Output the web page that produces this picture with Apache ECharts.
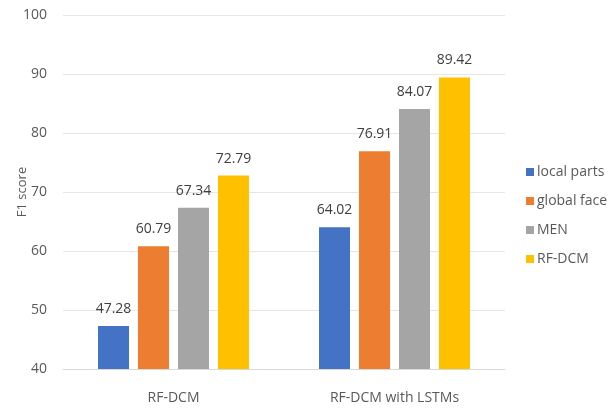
<!DOCTYPE html>
<html>
<head>
<meta charset="utf-8">
<script src="https://cdn.jsdelivr.net/npm/echarts@6/dist/echarts.min.js"></script>
<style>
  html, body { margin: 0; padding: 0; background: #fff; }
  #chart { width: 614px; height: 410px; }
</style>
</head>
<body>
<div id="chart"></div>
<script>
// data
const categories = ['RF-DCM', 'RF-DCM with LSTMs'];
const seriesNames = ['local parts', 'global face', 'MEN', 'RF-DCM'];
const localParts = [47.28, 64.02];
const globalFace = [60.79, 76.91];
const men = [67.34, 84.07];
const rfDcm = [72.79, 89.42];
const yTicks = [40, 50, 60, 70, 80, 90, 100];

const colors = ['#4472C4', '#ED7D31', '#A5A5A5', '#FFC000'];
const values = [localParts, globalFace, men, rfDcm];
const font = '"Open Sans", "Noto Sans", sans-serif';

let myChart = echarts.init(document.getElementById('chart'));

let option = {
  animation: false,
  textStyle: { fontFamily: font },
  grid: { left: 63, right: 109, top: 15, bottom: 41, containLabel: false, outerBoundsMode: 'none' },
  legend: {
    orient: 'vertical',
    left: 521,
    top: 160,
    itemWidth: 8,
    itemHeight: 8,
    itemGap: 15,
    icon: 'rect',
    data: seriesNames,
    textStyle: { fontSize: 14, color: '#595959', fontFamily: font, padding: [0, 0, 0, -2] }
  },
  xAxis: {
    type: 'category',
    data: categories,
    axisLine: { lineStyle: { color: '#d9d9d9' } },
    axisTick: { show: false },
    axisLabel: { fontSize: 14, color: '#595959', margin: 22, fontFamily: font }
  },
  yAxis: {
    type: 'value',
    min: yTicks[0],
    max: yTicks[yTicks.length - 1],
    interval: 10,
    name: 'F1 score',
    nameLocation: 'middle',
    nameGap: 34,
    nameMoveOverlap: false,
    nameTextStyle: { fontSize: 13, color: '#595959', fontFamily: font },
    axisLine: { show: false },
    axisTick: { show: false },
    axisLabel: { fontSize: 14, color: '#595959', margin: 16, fontFamily: font },
    splitLine: { lineStyle: { color: '#e6e6e6' } }
  },
  series: seriesNames.map(function (name, i) {
    return {
      name: name,
      type: 'bar',
      data: values[i],
      barWidth: 31,
      barGap: '29%',
      itemStyle: { color: colors[i] },
      label: {
        show: true,
        position: 'top',
        distance: 10,
        fontSize: 14,
        color: '#404040',
        fontFamily: font,
        formatter: function (p) { return p.value.toFixed(2); }
      }
    };
  })
};

myChart.setOption(option);
</script>
</body>
</html>
